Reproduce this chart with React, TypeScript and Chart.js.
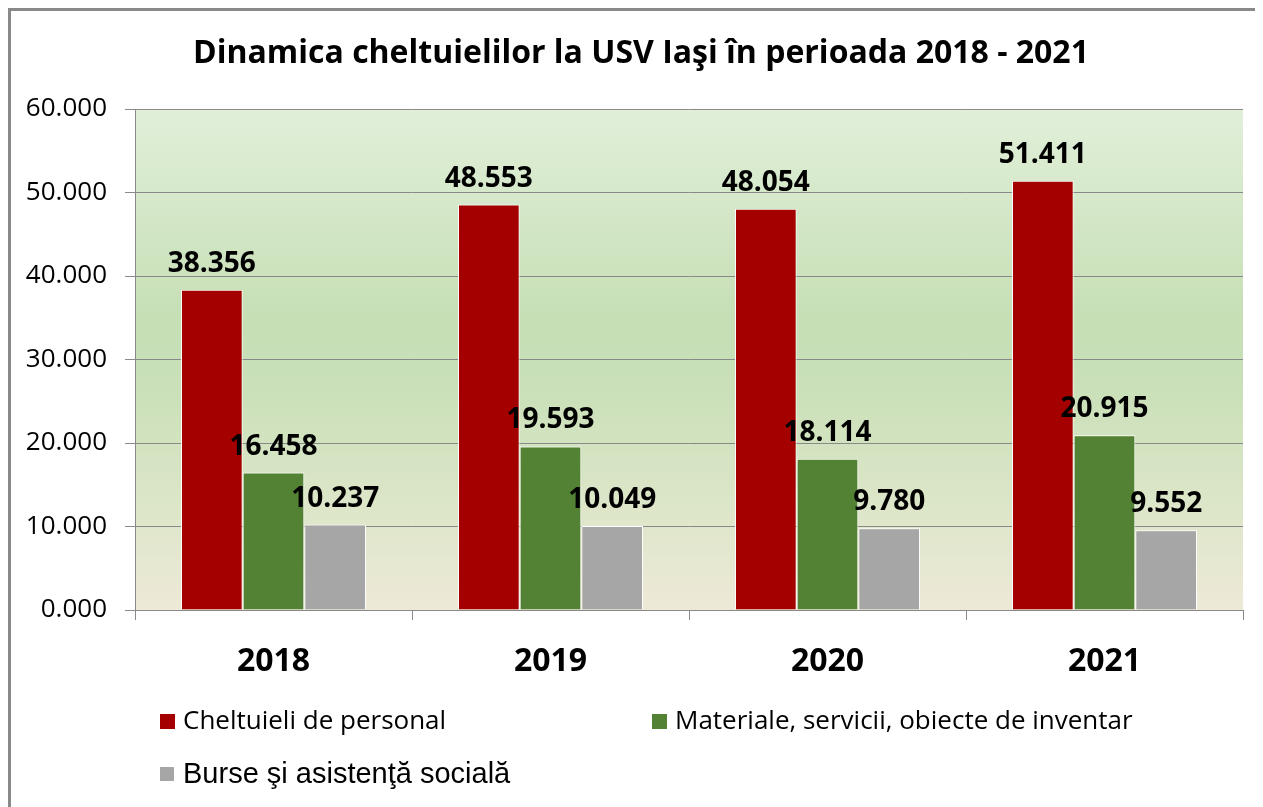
import React, { useEffect, useRef } from "react";
import { Chart, registerables } from "chart.js";

Chart.register(...registerables);

const titleText = "Dinamica cheltuielilor la USV Iaşi în perioada 2018 - 2021";
const categories = ["2018", "2019", "2020", "2021"];
const seriesNames = [
  "Cheltuieli de personal",
  "Materiale, servicii, obiecte de inventar",
  "Burse şi asistenţă socială",
];
const personal = [38.356, 48.553, 48.054, 51.411];
const materiale = [16.458, 19.593, 18.114, 20.915];
const burse = [10.237, 10.049, 9.78, 9.552];
const yMin = 0;
const yMax = 60;
const yStep = 10;

const colors = ["#a50000", "#548235", "#a6a6a6"];
const CAL = "'Open Sans', 'Noto Sans', sans-serif";
const ARIAL = "'Liberation Sans', Arial, sans-serif";

const W = 1252;
const H = 796;

const bgPlugin = {
  id: "bgGradient",
  beforeDraw(chart: any) {
    const { ctx, chartArea } = chart;
    if (!chartArea) return;
    const g = ctx.createLinearGradient(0, chartArea.top, 0, chartArea.bottom);
    g.addColorStop(0, "#e1efd9");
    g.addColorStop(0.42, "#c6dfb5");
    g.addColorStop(0.55, "#c9e0b8");
    g.addColorStop(0.8, "#dde6c9");
    g.addColorStop(1, "#eee9d7");
    ctx.save();
    ctx.fillStyle = g;
    ctx.fillRect(chartArea.left, chartArea.top, chartArea.right - chartArea.left, chartArea.bottom - chartArea.top);
    ctx.restore();
  },
};

const overlayPlugin = {
  id: "overlay",
  afterDraw(chart: any) {
    const { ctx, chartArea } = chart;
    ctx.save();
    // title
    ctx.fillStyle = "#000";
    ctx.font = `bold 32px ${CAL}`;
    ctx.textAlign = "center";
    ctx.textBaseline = "alphabetic";
    ctx.fillText(titleText, chart.width / 2 + 4, 52);

    // data labels
    ctx.font = `bold 28px ${CAL}`;
    chart.data.datasets.forEach((ds: any, di: number) => {
      const meta = chart.getDatasetMeta(di);
      meta.data.forEach((bar: any, i: number) => {
        const v = ds.data[i];
        ctx.fillText(v.toFixed(3), bar.x, bar.y - 18);
      });
    });

    // legend
    const positions = [
      { x: chartArea.left + 25, y: 711, box: 15, font: `26px ${CAL}` },
      { x: chartArea.left + 517, y: 711, box: 15, font: `26px ${CAL}` },
      { x: chartArea.left + 25, y: 764, box: 14, font: `29px ${ARIAL}` },
    ];
    chart.data.datasets.forEach((ds: any, di: number) => {
      const p = positions[di];
      ctx.fillStyle = ds.backgroundColor;
      ctx.fillRect(p.x, p.y - 8, p.box, p.box);
      ctx.fillStyle = "#000";
      ctx.font = p.font;
      ctx.textAlign = "left";
      ctx.textBaseline = "middle";
      ctx.fillText(ds.label, p.x + 23, p.y);
    });
    ctx.restore();
  },
};

function ChartView() {
  const ref = useRef<HTMLCanvasElement | null>(null);
  useEffect(() => {
    if (!ref.current) return;
    const data = [personal, materiale, burse];
    const chart = new Chart(ref.current, {
      type: "bar",
      data: {
        labels: categories,
        datasets: data.map((d, i) => ({
          label: seriesNames[i],
          data: d,
          backgroundColor: colors[i],
          borderColor: "#ffffff",
          borderWidth: 1,
          categoryPercentage: 0.668,
          barPercentage: 1,
        })),
      },
      options: {
        responsive: false,
        animation: false,
        devicePixelRatio: 1,
        layout: { padding: { top: 98, left: 0, right: 20, bottom: 127 } },
        plugins: {
          legend: { display: false },
          title: { display: false },
          tooltip: { enabled: false },
        },
        scales: {
          x: {
            grid: {
              display: true,
              drawOnChartArea: false,
              drawTicks: true,
              tickLength: 10,
              color: "#898989",
              offset: true,
            },
            border: { display: true, color: "#898989", width: 1 },
            ticks: {
              color: "#000",
              font: { family: CAL, size: 32, weight: "bold" },
              padding: 23,
            },
            afterFit: (s: any) => {
              s.height = 70;
            },
          },
          y: {
            min: yMin,
            max: yMax,
            grid: {
              color: "#898989",
              drawTicks: true,
              tickLength: 10,
            },
            border: { display: true, color: "#898989", width: 1 },
            ticks: {
              stepSize: yStep,
              color: "#000",
              font: { family: CAL, size: 26 },
              padding: 18,
              callback: (v: any) => Number(v).toFixed(3),
            },
            afterFit: (s: any) => {
              s.width = 124;
            },
          },
        },
      },
      plugins: [bgPlugin, overlayPlugin],
    } as any);
    return () => chart.destroy();
  }, []);
  return <canvas ref={ref} width={W} height={H} style={{ display: "block", width: W, height: H }} />;
}

export default function App() {
  return (
    <div
      style={{
        width: W,
        height: H,
        borderTop: "3px solid #898989",
        borderLeft: "3px solid #898989",
        background: "#fff",
      }}
    >
      <ChartView />
    </div>
  );
}
